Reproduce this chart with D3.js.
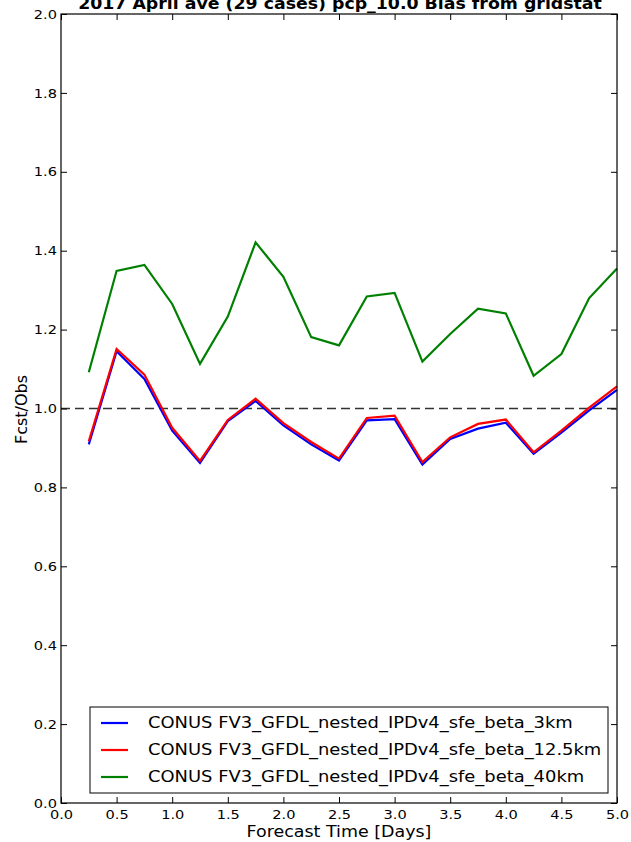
<!DOCTYPE html>
<html>
<head>
<meta charset="utf-8">
<script src="https://cdn.jsdelivr.net/npm/d3@7/dist/d3.min.js"></script>
<style>
  html,body{margin:0;padding:0;background:#fff;}
  svg{display:block;font-family:"DejaVu Sans",sans-serif;}
</style>
</head>
<body>
<svg id="chart" width="631" height="842"></svg>
<script>
/* forecast lead times (days) */
var leadDays=[0.25,0.5,0.75,1.0,1.25,1.5,1.75,2.0,2.25,2.5,2.75,3.0,3.25,3.5,3.75,4.0,4.25,4.5,4.75,5.0];

/* bias per experiment */
var bias3km=[0.909,1.145,1.075,0.944,0.862,0.968,1.019,0.957,0.909,0.868,0.970,0.973,0.858,0.923,0.949,0.964,0.885,0.939,0.995,1.047];
var bias12km=[0.917,1.151,1.086,0.951,0.867,0.971,1.025,0.963,0.915,0.873,0.976,0.982,0.864,0.927,0.961,0.972,0.889,0.944,1.002,1.056];
var bias40km=[1.092,1.349,1.364,1.265,1.113,1.233,1.421,1.334,1.181,1.160,1.284,1.293,1.119,1.189,1.253,1.241,1.083,1.138,1.280,1.355];

var seriesNames=['CONUS FV3_GFDL_nested_IPDv4_sfe_beta_3km','CONUS FV3_GFDL_nested_IPDv4_sfe_beta_12.5km','CONUS FV3_GFDL_nested_IPDv4_sfe_beta_40km'];
var seriesColors=['#0000ff','#ff0000','#008000'];

var xTicks=[0,0.5,1,1.5,2,2.5,3,3.5,4,4.5,5];
var yTicks=[0,0.2,0.4,0.6,0.8,1.0,1.2,1.4,1.6,1.8,2.0];

var ML=61, MR=14, MT=14, MB=39;
var W=631-ML-MR, H=842-MT-MB;
var SX=1.12; /* the source image is slightly stretched horizontally */

var svg=d3.select('#chart');

/* horizontal text with the same stretch */
function hText(parent,x,y,str,size,anchor,weight){
  return parent.append('text')
    .attr('transform','translate('+x+','+y+') scale('+SX+',1)')
    .attr('text-anchor',anchor||'start').attr('font-size',size+'px')
    .attr('font-weight',weight||'normal').attr('fill','#000').text(str);
}

/* title (clipped at the top like the original) */
hText(svg,ML+W/2+1,8.5,'2017 April ave (29 cases) pcp_10.0 Bias from gridstat',15.5,'middle','bold');

var g=svg.append('g').attr('transform','translate('+ML+','+MT+')');

var x=d3.scaleLinear().domain([0,5]).range([0,W]);
var y=d3.scaleLinear().domain([0,2]).range([H,0]);

/* reference line at 1.0 */
g.append('line').attr('x1',x(0)).attr('x2',x(5)).attr('y1',y(1)).attr('y2',y(1))
  .attr('stroke','#333').attr('stroke-width',1.5).attr('stroke-dasharray','9,5');

/* series */
var allSeries=[bias3km,bias12km,bias40km];
var line=d3.line().x(function(d,i){return x(leadDays[i])}).y(function(d){return y(d)});
allSeries.forEach(function(s,i){
  g.append('path').datum(s).attr('d',line)
    .attr('fill','none').attr('stroke',seriesColors[i]).attr('stroke-width',2.2)
    .attr('stroke-linejoin','miter');
});

/* axes: inward ticks on all four sides */
var TL=6;
function styleAxis(sel,hideText){
  sel.select('.domain').remove();
  sel.selectAll('.tick line').attr('stroke','#000').attr('stroke-width',1);
  if(hideText){sel.selectAll('.tick text').remove();return;}
  sel.selectAll('.tick text').each(function(){
    var t=d3.select(this);
    var tx=+t.attr('x')||0, ty=+t.attr('y')||0;
    t.attr('x',null).attr('y',null)
      .attr('transform','translate('+tx+','+ty+') scale('+SX+',1)')
      .attr('font-size','13px').attr('fill','#000')
      .attr('font-family','DejaVu Sans,sans-serif');
  });
}
var fmt=d3.format('.1f');
g.append('g').attr('transform','translate(0,'+H+')')
  .call(d3.axisBottom(x).tickValues(xTicks).tickFormat(fmt).tickSizeInner(-TL).tickPadding(6.5))
  .call(styleAxis,false);
g.append('g')
  .call(d3.axisTop(x).tickValues(xTicks).tickSizeInner(-TL))
  .call(styleAxis,true);
g.append('g')
  .call(d3.axisLeft(y).tickValues(yTicks).tickFormat(fmt).tickSizeInner(-TL).tickPadding(4))
  .call(styleAxis,false);
g.append('g').attr('transform','translate('+W+',0)')
  .call(d3.axisRight(y).tickValues(yTicks).tickSizeInner(-TL))
  .call(styleAxis,true);

/* frame */
g.append('rect').attr('x',0).attr('y',0).attr('width',W).attr('height',H)
  .attr('fill','none').attr('stroke','#000').attr('stroke-width',1.2);

/* axis labels */
hText(svg,ML+W/2,837,'Forecast Time [Days]',15.6,'middle');
svg.append('text').attr('transform','translate(26.5,'+(MT+H/2+1)+') rotate(-90)')
  .attr('text-anchor','middle').attr('font-size','16px').attr('fill','#000')
  .text('Fcst/Obs');

/* legend */
var lg=svg.append('g');
lg.append('rect').attr('x',90).attr('y',707).attr('width',518).attr('height',86)
  .attr('fill','#fff').attr('stroke','#000').attr('stroke-width',1);
seriesNames.forEach(function(n,i){
  var ry=723+i*27;
  lg.append('line').attr('x1',101).attr('x2',128).attr('y1',ry).attr('y2',ry)
    .attr('stroke',seriesColors[i]).attr('stroke-width',2.2);
  hText(lg,148,ry+5,n,16,'start');
});
</script>
</body>
</html>
